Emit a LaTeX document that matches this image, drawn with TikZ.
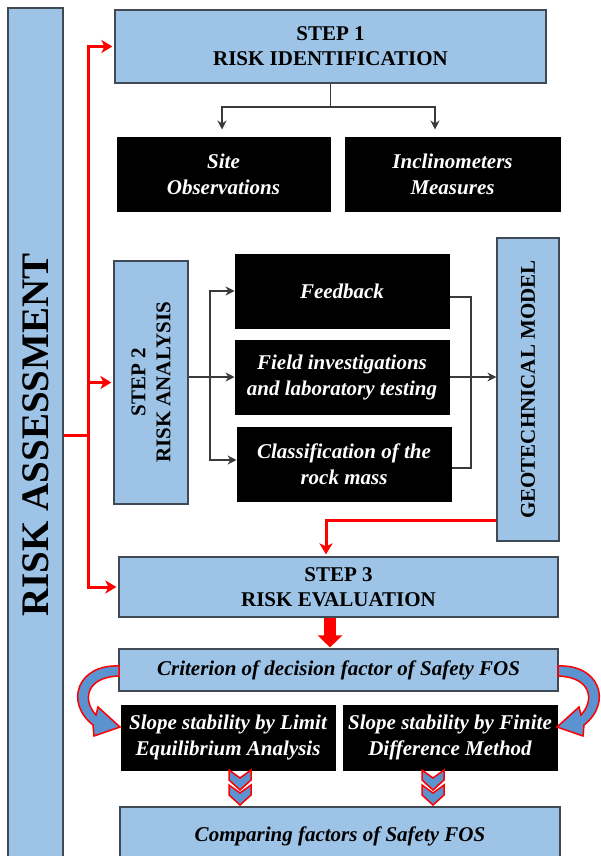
\documentclass[tikz,border=0pt]{standalone}
\usepackage{fontspec}
\setmainfont{Liberation Serif}
\usetikzlibrary{arrows.meta}

\definecolor{boxblue}{HTML}{9DC3E6}
\definecolor{boxgray}{HTML}{404A55}
\definecolor{linegray}{HTML}{3A3A3A}
\definecolor{arrowblue}{HTML}{5B93D0}

\tikzset{
    bluebox/.style={draw=boxgray, line width=1.2pt, fill=boxblue, inner sep=0pt, align=center, font=\fontsize{21}{25}\selectfont\bfseries},
    bluetext/.style={bluebox, font=\fontsize{21}{25}\selectfont\bfseries\itshape},
    blackbox/.style={draw=black, line width=1pt, fill=black, text=white, inner sep=0pt, align=center, font=\fontsize{21}{26}\selectfont\bfseries\itshape},
    blk/.style={draw=linegray, line width=1.1pt},
    blkarrow/.style={blk, -{Stealth[length=9pt,width=9pt,inset=3pt]}},
    redline/.style={draw=red, line width=3pt},
    redarrow/.style={redline, -{Stealth[length=11pt,width=13pt,inset=3pt]}, shorten >=2pt},
    fatarrow/.style={draw=red, line width=12pt, -{Triangle[length=12pt,width=24pt]}, shorten >=1pt},
    curlarrow/.style={draw=red, line width=1.5pt, fill=arrowblue, line join=miter},
    chevron/.style={draw=red, line width=1.5pt, fill=arrowblue, line join=miter}
}

\begin{document}
\begin{tikzpicture}[x=1pt,y=-1pt]
    \useasboundingbox (0,0) rectangle (601,856);

    % left bar
    \node[bluebox, rotate=90, minimum width=854pt, minimum height=55pt, font=\fontsize{39}{44}\selectfont\bfseries] (assess) at (35.5,435) {RISK ASSESSMENT};

    % step 1
    \node[bluebox, minimum width=431pt, minimum height=73pt] (step1) at (330.5,46.5) {STEP 1\\RISK IDENTIFICATION};
    \node[blackbox, minimum width=213pt, minimum height=74pt] (site) at (223.5,174) {Site\\Observations};
    \node[blackbox, minimum width=215pt, minimum height=74pt] (incl) at (452.5,174) {Inclinometers\\Measures};

    % step 2
    \node[bluebox, rotate=90, minimum width=243pt, minimum height=74pt] (step2) at (151,382.5) {STEP 2\\RISK ANALYSIS};
    \node[blackbox, minimum width=214pt, minimum height=74pt] (feed) at (342,291) {Feedback};
    \node[blackbox, minimum width=214pt, minimum height=74pt] (field) at (342,377) {Field investigations\\and laboratory testing};
    \node[blackbox, minimum width=214pt, minimum height=74pt] (class) at (344,464) {Classification of the\\rock mass};
    \node[bluebox, rotate=90, minimum width=303pt, minimum height=62pt] (geo) at (528,389.5) {GEOTECHNICAL MODEL};

    % step 3
    \node[bluebox, minimum width=439pt, minimum height=60pt] (step3) at (338.5,587) {STEP 3\\RISK EVALUATION};
    \node[bluetext, minimum width=439pt, minimum height=42pt] (crit) at (338.5,670) {Criterion of decision factor of Safety FOS};
    \node[blackbox, minimum width=214pt, minimum height=65pt] (lea) at (228,737.5) {Slope stability by Limit\\Equilibrium Analysis};
    \node[blackbox, minimum width=214pt, minimum height=65pt] (fdm) at (450,737.5) {Slope stability by Finite\\Difference Method};
    \node[bluetext, minimum width=440pt, minimum height=59pt] (comp) at (340,836.5) {Comparing factors of Safety FOS};

    % red connectors
    \coordinate (trunk) at (88,435);
    \draw[redline] (assess.south) -- (trunk);
    \draw[redarrow] (trunk) |- (step1.west);
    \draw[redarrow] (trunk) |- (step2.north);
    \draw[redarrow] (trunk) |- (step3.west);
    \draw[redarrow] ([yshift=-130.5pt]geo.north) -| ([xshift=-12.5pt]step3.north);
    \draw[fatarrow] ([xshift=-8.5pt]step3.south) -- ([xshift=-8.5pt]crit.north);

    % black connectors
    \coordinate (split1) at (330.5,107);
    \draw[blk] (step1.south) -- (split1);
    \draw[blkarrow] (split1) -| ([xshift=-1.5pt,yshift=7pt]site.north);
    \draw[blkarrow] (split1) -| ([xshift=-17.5pt,yshift=7pt]incl.north);

    \coordinate (split2) at (210,377);
    \draw[blkarrow] (step2.south |- field.west) -- (field.west);
    \draw[blkarrow] (split2) |- (feed.west);
    \draw[blkarrow] (split2) |- ([yshift=4pt]class.west);

    \coordinate (merge) at (471,377);
    \draw[blk] ([yshift=-6pt]feed.east) -| (merge);
    \draw[blk] ([yshift=-4pt]class.east) -| (merge);
    \draw[blkarrow] (field.east) -- (field.east -| geo.north);

    % curved arrows
    \draw[curlarrow] (119,666) .. controls (78,664) and (64,702) .. (93,725) -- (94,736) -- (120,727) -- (98,707) -- (96,715) .. controls (82,700) and (86,677) .. (119,676) -- cycle;
    \draw[curlarrow] (558,666) .. controls (599,664) and (613,702) .. (584,725) -- (583,736) -- (557,727) -- (579,707) -- (581,715) .. controls (595,700) and (591,677) .. (558,676) -- cycle;

    % chevrons
    \foreach \cx in {240,433}{
        \foreach \cy in {770,785}{
            \draw[chevron] ({\cx-11},\cy) -- (\cx,{\cy+8}) -- ({\cx+11},\cy) -- ({\cx+11},{\cy+10}) -- (\cx,{\cy+20}) -- ({\cx-11},{\cy+10}) -- cycle;
        }
    }
\end{tikzpicture}
\end{document}
